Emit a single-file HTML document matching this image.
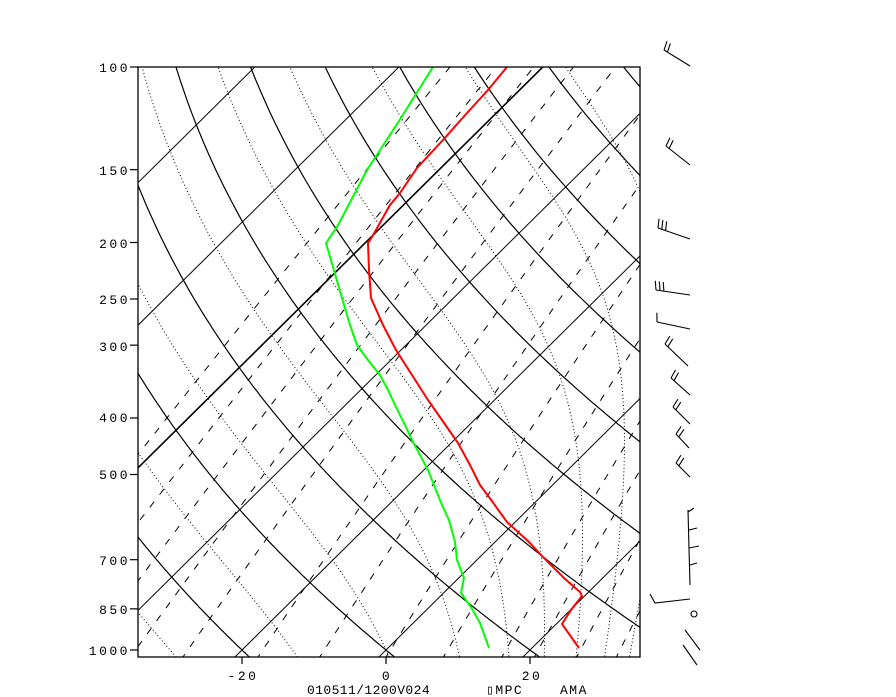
<!DOCTYPE html>
<html><head><meta charset="utf-8"><style>
html,body{margin:0;padding:0;background:#fff;}
#w{position:relative;width:896px;height:697px;overflow:hidden;}
svg{position:absolute;left:0;top:0;}
text{font-family:"Liberation Mono",monospace;font-size:13px;fill:#000;}
</style></head><body><div id="w">
<svg id="s" width="896" height="697" xmlns="http://www.w3.org/2000/svg">
<defs><clipPath id="c"><rect x="138" y="67" width="502" height="590"/></clipPath></defs>
<g id="grid" clip-path="url(#c)" fill="none" stroke="#000"></g>
<g id="data" clip-path="url(#c)" fill="none" stroke-width="2"></g>
<rect x="138" y="67" width="502" height="590" fill="none" stroke="#000" stroke-width="1.3"/>
<g id="ticks" stroke="#000" stroke-width="1.2"></g>
<g id="barbs" stroke="#000" stroke-width="1.1" fill="none"></g>
<g text-anchor="end" letter-spacing="2.5">
<text x="130" y="72">100</text><text x="130" y="175">150</text><text x="130" y="248">200</text>
<text x="130" y="304">250</text><text x="130" y="351">300</text><text x="130" y="422">400</text>
<text x="130" y="479">500</text><text x="130" y="565">700</text><text x="130" y="614">850</text>
<text x="130" y="655">1000</text>
</g>
<g text-anchor="middle" letter-spacing="2.5">
<text x="243" y="680">-20</text><text x="387" y="680">0</text><text x="532" y="680">20</text>
</g>
<text x="307" y="694" letter-spacing="0.4">010511/1200V024</text>
<text x="486" y="694" letter-spacing="1.5">▯MPC</text>
<text x="560" y="694" letter-spacing="1.5">AMA</text>
</svg></div>
<script>
var NS="http://www.w3.org/2000/svg";
function Y(p){return 650-583*Math.log10(1000/p);}
function X(T,y){return 386+7.2*T+1.01*(650-y);}
function add(g,d,attrs){var e=document.createElementNS(NS,"path");e.setAttribute("d",d);for(var k in attrs)e.setAttribute(k,attrs[k]);document.getElementById(g).appendChild(e);}
function curve(f){var d="";for(var p=1040;p>=95;p-=5){var y=Y(p);var x=X(f(p),y);d+=(d?"L":"M")+x.toFixed(1)+" "+y.toFixed(1);}return d;}
for(var T=-180;T<=60;T+=20){var y1=660,y2=60;add("grid","M"+X(T,y1)+" "+y1+"L"+X(T,y2)+" "+y2,{"stroke-width":(T==-60?1.6:1)});}
for(var th=-60;th<=240;th+=20){(function(th){add("grid",curve(function(p){return (th+273.15)*Math.pow(p/1000,0.2857)-273.15;}),{"stroke-width":1.2});})(th);}
function es(T){return 6.112*Math.exp(17.67*T/(T+243.5));}
function dTdp(Tk,p){var e=es(Tk-273.15);var rs=0.622*e/(p-e);var num=(287*Tk+2.5e6*rs)/p;var den=1004+2.5e6*2.5e6*rs*0.622/(287*Tk*Tk);return num/den;}
[-30,-13,0,10,17,22,26.5,30.5,34].forEach(function(T0){
 var pts=[];var Tk=T0+273.15,p=1000;var Tb=Tk;
 for(var q=1000;q<1040;q+=2){Tb+=dTdp(Tb,q)*2;} pts.push([1040,Tb-273.15]);
 while(p>95){pts.push([p,Tk-273.15]);var h=2;var k1=dTdp(Tk,p);var k2=dTdp(Tk-k1*h/2,p-h/2);var k3=dTdp(Tk-k2*h/2,p-h/2);var k4=dTdp(Tk-k3*h,p-h);Tk-= h*(k1+2*k2+2*k3+k4)/6;p-=h;}
 var d="";pts.forEach(function(a){var y=Y(a[0]);d+=(d?"L":"M")+X(a[1],y).toFixed(1)+" "+y.toFixed(1);});
 add("grid",d,{"stroke-width":1,"stroke-dasharray":"1 2.5"});
});
[0.02,0.05,0.1,0.2,0.4,1,2,4,7,12,16,23,32].forEach(function(w){
 add("grid",curve(function(p){var e=w*p/(622+w);var l=Math.log(e/6.112);return 243.5*l/(17.67-l);}),{"stroke-width":1,"stroke-dasharray":"7 9"});
});
var red=[[507,67],[488,90],[467,113],[443,140],[417,168],[400,193],[390,205],[372,237],[368,243],[369,270],[371,298],[383,325],[396,350],[412,375],[428,400],[442,420],[458,443],[470,465],[480,485],[489,497],[507,522],[529,542],[543,557],[564,578],[580,592],[582,596],[571,610],[562,624],[579,648]];
var grn=[[433,67],[399,121],[367,170],[337,227],[326,243],[333,267],[342,298],[350,325],[357,345],[368,360],[380,375],[388,390],[395,405],[405,425],[412,440],[420,455],[428,470],[436,490],[442,505],[449,520],[455,542],[457,560],[464,578],[461,593],[471,607],[480,623],[489,648]];
function pl(a){return a.map(function(p,i){return (i?"L":"M")+p[0]+" "+p[1];}).join("");}
add("data",pl(red),{stroke:"#ff0000"});add("data",pl(grn),{stroke:"#00ff00"});
[100,150,200,250,300,400,500,700,850,1000].forEach(function(p){var y=Y(p);add("ticks","M130 "+y+"L138 "+y,{});});
[[-20],[0],[20]].forEach(function(t){var x=386+7.2*t[0];add("ticks","M"+x+" 657L"+x+" 664",{});});
function barb(bx,by,tx,ty,n){var dx=tx-bx,dy=ty-by,L=Math.hypot(dx,dy);var ux=dx/L,uy=dy/L;var px=uy,py=-ux;if(py>0){px=-px;py=-py;}
 var d="M"+bx+" "+by+"L"+tx+" "+ty;for(var i=0;i<n;i++){var sx=tx-ux*4*i,sy=ty-uy*4*i;d+="M"+sx.toFixed(1)+" "+sy.toFixed(1)+"L"+(sx+px*9+ux*2).toFixed(1)+" "+(sy+py*9+uy*2).toFixed(1);}
 add("barbs",d,{});}
barb(690,66,664,50,2);barb(690,165,666,146,2);barb(690,239,658,228,3);barb(690,295,656,290,3);barb(690,329,657,322,1);
barb(688,366,665,344,2);barb(690,395,671,378,2);barb(690,424,673,407,2);barb(689,448,676,434,2);barb(690,477,676,463,2);
add("barbs","M688 510L689 548L690 585M688 512L694 508M689 530L697 528M689 548L699 546M690 565L697 563",{});
add("barbs","M690 599L655 603L650 594",{});
add("barbs","M694 614m-3 0a3 3 0 1 0 6 0a3 3 0 1 0 -6 0",{});
add("barbs","M685 630L700 650M683 645L697 665",{});
</script>
</body></html>
